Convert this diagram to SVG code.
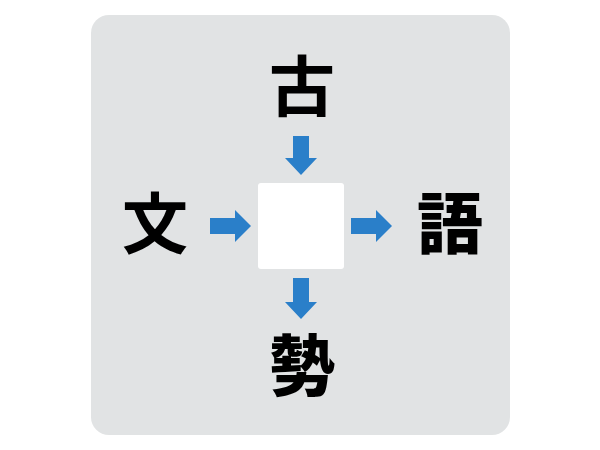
<svg xmlns="http://www.w3.org/2000/svg" width="600" height="450" viewBox="0 0 600 450">
  <style>
    .bg { fill: #e1e3e4; }
    .box { fill: #ffffff; }
    .arrow { fill: #2a7fc9; }
    .ch { font-family: "Noto Sans CJK JP", "Noto Sans CJK SC", sans-serif; font-weight: 700; font-size: 66px; fill: #000000; text-anchor: middle; }
    .heavy { font-weight: 900; }
  </style>
  <rect class="bg" x="91" y="15" width="419" height="420" rx="18" ry="18"/>
  <g id="center">
    <rect class="box" x="258" y="183" width="86" height="86" rx="3" ry="3"/>
  </g>
  <g id="node-top"><text class="ch" x="302" y="111">古</text></g>
  <g id="node-left"><text class="ch" x="155" y="248">文</text></g>
  <g id="node-right"><text class="ch heavy" x="450" y="248">語</text></g>
  <g id="node-bottom"><text class="ch heavy" x="302" y="390">勢</text></g>
  <g id="connectors">
    <path class="arrow" d="M293,136 H309 V158 H317 L301,175 L285,158 H293 Z"/>
    <path class="arrow" d="M293,278 H309 V302 H317 L301,319 L285,302 H293 Z"/>
    <path class="arrow" d="M210,218 H235 V210 L251,226 L235,242 V234 H210 Z"/>
    <path class="arrow" d="M351,218 H376 V210 L392,226 L376,242 V234 H351 Z"/>
  </g>
</svg>
